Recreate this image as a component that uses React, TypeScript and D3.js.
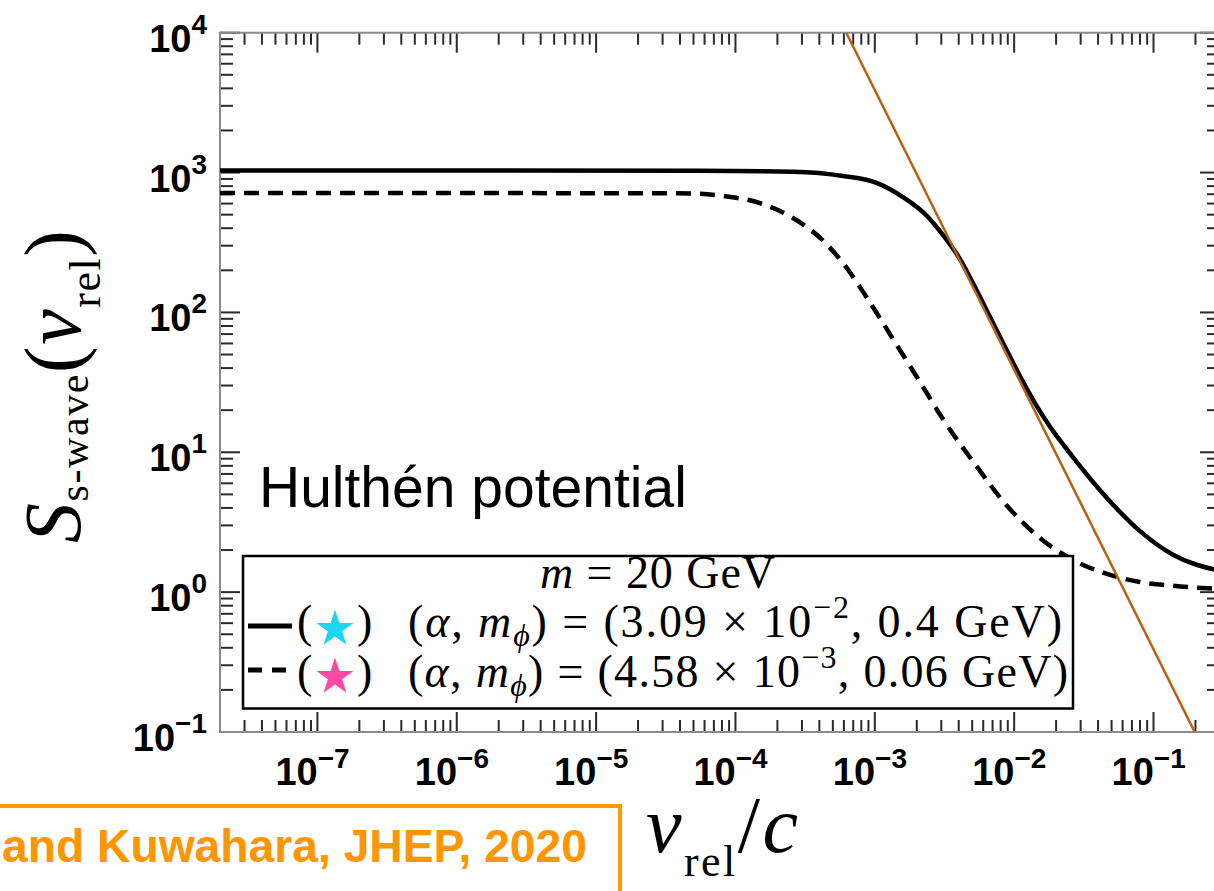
import { useEffect } from 'react'
import * as d3 from 'd3'

// curves (v_rel/c, S)
const solidV = [2e-8, 5.56e-5, 2.59e-4, 5.92e-4, 1.04e-3, 1.59e-3, 2.37e-3, 3.08e-3, 4.08e-3, 5.23e-3, 6.71e-3, 8.6e-3, 1.1e-2, 1.41e-2, 1.81e-2, 2.64e-2, 4.63e-2, 8.0e-2, 0.138, 0.3]
const solidS = [1035, 1031, 1014, 945, 841, 668, 489, 358, 241, 152, 92.7, 56.6, 35.1, 22.5, 15.2, 9.25, 4.71, 2.73, 1.85, 1.42]

const dashedV = [2e-8, 2e-5, 4.95e-5, 8.69e-5, 1.5e-4, 2.59e-4, 4.05e-4, 5.92e-4, 8.79e-4, 1.35e-3, 2.11e-3, 3.08e-3, 5.23e-3, 9.04e-3, 1.53e-2, 2.64e-2, 4.63e-2, 8.0e-2, 0.138, 0.3]
const dashedS = [714, 712, 708, 675, 605, 473, 341, 225, 127, 64.6, 31.8, 17.3, 8.24, 4.06, 2.44, 1.7, 1.35, 1.18, 1.11, 1.053]

// 1/v^2 envelope
const envV = [6.24e-4, 0.1975]
const envS = [1e4, 0.1]

const xTickExps = [-7, -6, -5, -4, -3, -2, -1]
const yTickExps = [-1, 0, 1, 2, 3, 4]

const W = 1214
const H = 891
const left = 220
const right = 1220
const top = 32.7
const bottom = 732

const sup = (e: number) => (e < 0 ? '\u2212' + Math.abs(e) : String(e))

const App = () => {
  useEffect(() => {
    document.body.style.margin = '0'
  }, [])

  const x = d3.scaleLog().domain([2e-8, 0.3]).range([left, right])
  const y = d3.scaleLog().domain([0.1, 1e4]).range([bottom, top])
  const line = d3.line<[number, number]>()
    .x(d => x(d[0]))
    .y(d => y(d[1]))
    .curve(d3.curveMonotoneX)

  const solid = solidV.map((v, i) => [v, solidS[i]] as [number, number])
  const dashed = dashedV.map((v, i) => [v, dashedS[i]] as [number, number])
  const env = envV.map((v, i) => [v, envS[i]] as [number, number])

  const xMinor = d3.range(-8, 0)
    .flatMap(e => d3.range(2, 10).map(m => m * Math.pow(10, e)))
    .filter(v => v > 2.001e-8 && v < 0.3)
  const yMinor = d3.range(-1, 4)
    .flatMap(e => d3.range(2, 10).map(m => m * Math.pow(10, e)))
    .filter(v => v < 1e4)

  const tickCol = '#2a2a2a'
  const axisCol = '#8a8a8a'
  const sans = '"Liberation Sans", Arial, sans-serif'
  const serif = '"Liberation Serif", "Times New Roman", serif'
  const star = d3.symbol(d3.symbolStar, 430)() ?? ''

  return (
    <svg width={W} height={H} style={{ display: 'block', background: '#fff' }} fontFamily={sans}>
      <defs>
        <clipPath id="plot">
          <rect x={left} y={top} width={right - left} height={bottom - top} />
        </clipPath>
      </defs>

      {/* ticks */}
      <g stroke={tickCol} strokeWidth={2}>
        {xTickExps.map(e => (
          <g key={'xm' + e}>
            <line x1={x(Math.pow(10, e))} x2={x(Math.pow(10, e))} y1={bottom} y2={bottom - 20} />
            <line x1={x(Math.pow(10, e))} x2={x(Math.pow(10, e))} y1={top} y2={top + 20} />
          </g>
        ))}
        {xMinor.map((v, i) => (
          <g key={'xn' + i}>
            <line x1={x(v)} x2={x(v)} y1={bottom} y2={bottom - 12} />
            <line x1={x(v)} x2={x(v)} y1={top} y2={top + 12} />
          </g>
        ))}
        {yTickExps.map(e => (
          <g key={'ym' + e}>
            <line x1={left} x2={left + 20} y1={y(Math.pow(10, e))} y2={y(Math.pow(10, e))} />
            <line x1={right} x2={right - 20} y1={y(Math.pow(10, e))} y2={y(Math.pow(10, e))} />
          </g>
        ))}
        {yMinor.map((v, i) => (
          <g key={'yn' + i}>
            <line x1={left} x2={left + 13} y1={y(v)} y2={y(v)} />
            <line x1={right} x2={right - 13} y1={y(v)} y2={y(v)} />
          </g>
        ))}
      </g>

      {/* frame */}
      <rect x={left} y={top} width={right - left} height={bottom - top} fill="none" stroke={axisCol} strokeWidth={2} />

      {/* curves */}
      <g clipPath="url(#plot)" fill="none">
        <path d={line(solid) ?? ''} stroke="#000" strokeWidth={4.5} />
        <path d={line(dashed) ?? ''} stroke="#000" strokeWidth={4.5} strokeDasharray="15,9" />
        <path d={d3.line<[number, number]>().x(d => x(d[0])).y(d => y(d[1]))(env) ?? ''} stroke="#b8620e" strokeWidth={2.5} />
      </g>

      {/* tick labels */}
      <g fontWeight="bold" fill="#000">
        {yTickExps.map(e => (
          <text key={'yl' + e} x={207} y={y(Math.pow(10, e)) + 19} textAnchor="end" fontSize={38}>
            <tspan>10</tspan>
            <tspan fontSize={28} dy={-18}>{sup(e)}</tspan>
          </text>
        ))}
        {xTickExps.map(e => (
          <text key={'xl' + e} x={x(Math.pow(10, e)) - 42} y={785} fontSize={38}>
            <tspan>10</tspan>
            <tspan fontSize={28} dy={-17}>{sup(e)}</tspan>
          </text>
        ))}
      </g>

      <text x={259} y={507} fontSize={57}>Hulthén potential</text>

      {/* legend */}
      <rect x={243} y={556} width={830} height={152.5} fill="#fff" stroke="#000" strokeWidth={2.5} />
      <g fontFamily={serif} fontSize={46} fill="#000">
        <text x={540} y={588} textLength={235} lengthAdjust="spacing">
          <tspan fontStyle="italic">m</tspan>
          <tspan> = 20 GeV</tspan>
        </text>

        <line x1={248} x2={292} y1={626} y2={626} stroke="#000" strokeWidth={5} />
        <text x={297} y={637}>(</text>
        <path d={star} transform="translate(335,629)" fill="#1ad6ee" />
        <text x={357} y={637}>)</text>
        <text x={408} y={637} textLength={654} lengthAdjust="spacing">
          <tspan>(</tspan>
          <tspan fontStyle="italic">α</tspan>
          <tspan>, </tspan>
          <tspan fontStyle="italic">m</tspan>
          <tspan fontStyle="italic" fontSize={32} dy={9}>ϕ</tspan>
          <tspan dy={-9}>) = (3.09 × 10</tspan>
          <tspan fontSize={32} dy={-19}>−2</tspan>
          <tspan dy={19}>, 0.4 GeV)</tspan>
        </text>

        <line x1={248} x2={292} y1={670} y2={670} stroke="#000" strokeWidth={5} strokeDasharray="14,10" />
        <text x={297} y={687}>(</text>
        <path d={star} transform="translate(335,677)" fill="#ff4aa5" />
        <text x={357} y={687}>)</text>
        <text x={408} y={687} textLength={660} lengthAdjust="spacing">
          <tspan>(</tspan>
          <tspan fontStyle="italic">α</tspan>
          <tspan>, </tspan>
          <tspan fontStyle="italic">m</tspan>
          <tspan fontStyle="italic" fontSize={32} dy={9}>ϕ</tspan>
          <tspan dy={-9}>) = (4.58 × 10</tspan>
          <tspan fontSize={32} dy={-19}>−3</tspan>
          <tspan dy={19}>, 0.06 GeV)</tspan>
        </text>
      </g>

      {/* axis titles */}
      <text transform="translate(80,386.5) rotate(-90)" textAnchor="middle" fontFamily={serif} fontSize={80} textLength={313} lengthAdjust="spacing">
        <tspan fontStyle="italic">S</tspan>
        <tspan fontSize={42} dy={8}>s-wave</tspan>
        <tspan dy={-8}>(</tspan>
        <tspan fontStyle="italic">v</tspan>
        <tspan fontSize={44} dy={20}>rel</tspan>
        <tspan dy={-20}>)</tspan>
      </text>
      <text x={646} y={852} fontFamily={serif} fontSize={80} textLength={152} lengthAdjust="spacing">
        <tspan fontStyle="italic">v</tspan>
        <tspan fontSize={44} dy={24}>rel</tspan>
        <tspan dy={-24}>/</tspan>
        <tspan fontStyle="italic">c</tspan>
      </text>

      {/* citation box */}
      <rect x={-10} y={806} width={630} height={120} fill="none" stroke="#ff9a00" strokeWidth={4} />
      <text x={2} y={862} fontSize={46} fontWeight="bold" fill="#ff9500" textLength={585} lengthAdjust="spacingAndGlyphs">and Kuwahara, JHEP, 2020</text>
    </svg>
  )
}

export default App
